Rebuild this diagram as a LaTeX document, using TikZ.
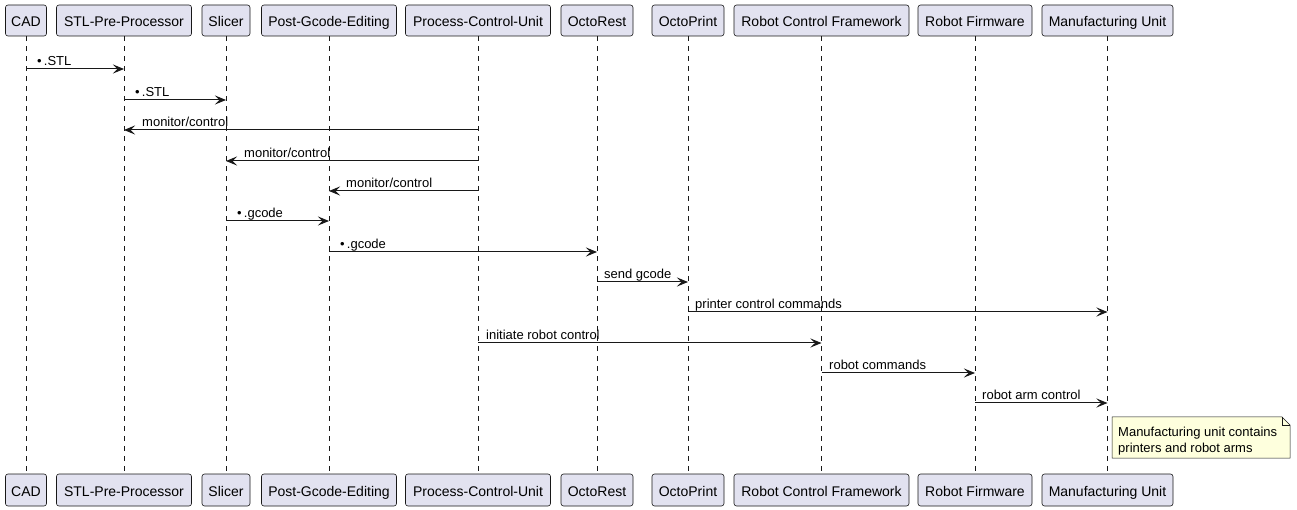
\documentclass[tikz,border=0pt]{standalone}
\usepackage{fontspec}
\setmainfont{Liberation Sans}
\usetikzlibrary{arrows.meta}
\definecolor{pfill}{HTML}{E2E2F0}
\definecolor{pline}{HTML}{181818}
\definecolor{nfill}{HTML}{FEFFDD}
\begin{document}
\begin{tikzpicture}[x=1bp,y=-1bp,
  pbox/.style={draw=pline,fill=pfill,line width=0.6bp,rounded corners=2.5bp,inner sep=0pt,text height=14.5bp,text depth=1.5bp,font=\fontsize{14bp}{16bp}\selectfont},
  life/.style={draw=pline,line width=0.5bp,dash pattern=on 5bp off 5bp},
  msg/.style={draw=pline,line width=1bp,-{Stealth[length=11bp,width=9bp,inset=4.5bp]}},
  mlab/.style={anchor=base west,inner sep=0pt,font=\fontsize{13bp}{15bp}\selectfont},
]
\useasboundingbox[fill=white] (0,0) rectangle (1297,510);
% participants
\foreach \n/\x/\w/\t in {CAD/26/41/CAD, STL/124/135/STL-Pre-Processor, SLI/226/48/Slicer, PGE/329/135/Post-Gcode-Editing, PCU/478/145/Process-Control-Unit, ORS/597/72/OctoRest, OPR/688/72/OctoPrint, RCF/821.5/175/Robot Control Framework, RFW/975/114/Robot Firmware, MFU/1107.5/131/Manufacturing Unit}{
  \node[pbox,minimum width=\w bp,minimum height=31bp] (t\n) at (\x,20.5) {\t};
  \node[pbox,minimum width=\w bp,minimum height=32bp] (b\n) at (\x,490) {\t};
  \draw[life] (t\n.south) -- (b\n.north);
}
% messages
\draw[msg] (tCAD |- 0,69) -- (tSTL |- 0,69);
\node[mlab] (l1) at (37,65.5) {\textbullet\,.STL};
\draw[msg] (tSTL |- 0,100) -- (tSLI |- 0,100);
\node[mlab] (l2) at (135,96.5) {\textbullet\,.STL};
\draw[msg] (tPCU |- 0,130) -- (tSTL |- 0,130);
\node[mlab] (l3) at (142,126.5) {monitor/control};
\draw[msg] (tPCU |- 0,161) -- (tSLI |- 0,161);
\node[mlab] (l4) at (244,157.5) {monitor/control};
\draw[msg] (tPCU |- 0,191) -- (tPGE |- 0,191);
\node[mlab] (l5) at (346,187.5) {monitor/control};
\draw[msg] (tSLI |- 0,221) -- (tPGE |- 0,221);
\node[mlab] (l6) at (237,217.5) {\textbullet\,.gcode};
\draw[msg] (tPGE |- 0,252) -- (tORS |- 0,252);
\node[mlab] (l7) at (340,248.5) {\textbullet\,.gcode};
\draw[msg] (tORS |- 0,282) -- (tOPR |- 0,282);
\node[mlab] (l8) at (604,278.5) {send gcode};
\draw[msg] (tOPR |- 0,312) -- (tMFU |- 0,312);
\node[mlab] (l9) at (695,308.5) {printer control commands};
\draw[msg] (tPCU |- 0,343) -- (tRCF |- 0,343);
\node[mlab] (l10) at (486,339.5) {initiate robot control};
\draw[msg] (tRCF |- 0,373) -- (tRFW |- 0,373);
\node[mlab] (l11) at (829,369.5) {robot commands};
\draw[msg] (tRFW |- 0,403) -- (tMFU |- 0,403);
\node[mlab] (l12) at (982,399.5) {robot arm control};
% note
\draw[draw=pline,fill=nfill,line width=0.5bp] (1112,417) -- (1282,417) -- (1290,425) -- (1290,458) -- (1112,458) -- cycle;
\draw[draw=pline,line width=0.5bp] (1282,417) -- (1282,425) -- (1290,425);
\node[mlab] (n1) at (1118,436) {Manufacturing unit contains};
\node[mlab] (n2) at (1118,452) {printers and robot arms};
\end{tikzpicture}
\end{document}
